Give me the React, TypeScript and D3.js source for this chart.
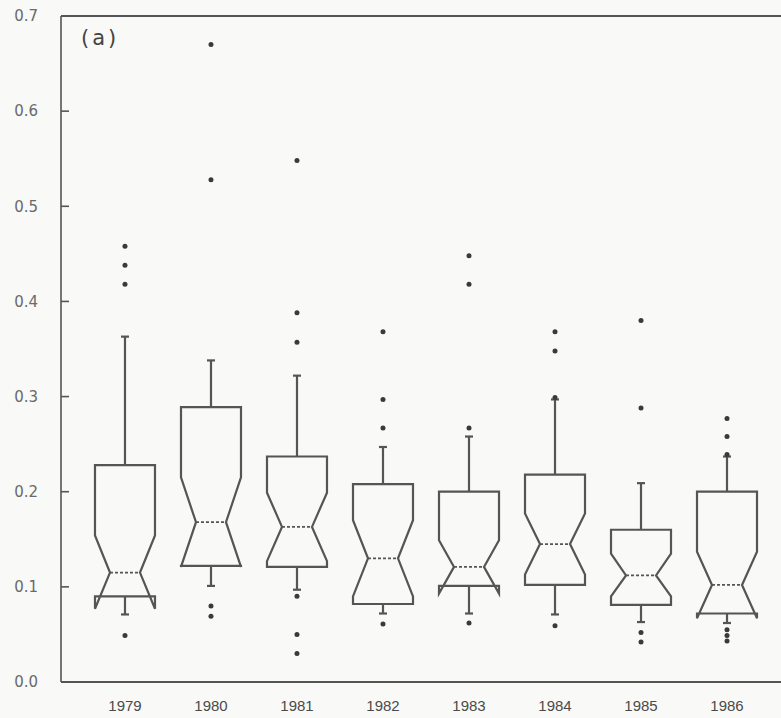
import React from "react";
import * as d3 from "d3";

// Annual distributions, one entry per year
const years = ["1979", "1980", "1981", "1982", "1983", "1984", "1985", "1986"];
const q1 = [0.090, 0.122, 0.121, 0.082, 0.101, 0.102, 0.081, 0.072];
const q3 = [0.228, 0.289, 0.237, 0.208, 0.200, 0.218, 0.160, 0.200];
const medians = [0.115, 0.168, 0.163, 0.130, 0.121, 0.145, 0.112, 0.102];
const notchLow = [0.077, 0.121, 0.127, 0.090, 0.093, 0.113, 0.090, 0.067];
const notchHigh = [0.154, 0.215, 0.199, 0.170, 0.149, 0.177, 0.135, 0.137];
const whiskerLow = [0.071, 0.101, 0.097, 0.072, 0.072, 0.071, 0.063, 0.062];
const whiskerHigh = [0.363, 0.338, 0.322, 0.247, 0.258, 0.297, 0.209, 0.237];
const outliers = [
  [0.458, 0.438, 0.418, 0.049],
  [0.670, 0.528, 0.080, 0.069],
  [0.548, 0.388, 0.357, 0.090, 0.050, 0.030],
  [0.368, 0.297, 0.267, 0.061],
  [0.448, 0.418, 0.267, 0.062],
  [0.368, 0.348, 0.299, 0.059],
  [0.380, 0.288, 0.052, 0.042],
  [0.277, 0.258, 0.239, 0.055, 0.049, 0.043],
];
const yTicks = [0.0, 0.1, 0.2, 0.3, 0.4, 0.5, 0.6, 0.7];
const panelLabel = "(a)";

const W = 781;
const H = 718;
const left = 61;
const ink = "#555555";

export default function App() {
  const y = d3.scaleLinear().domain([0, 0.7]).range([682, 16]);
  const x = d3.scalePoint<string>().domain(years).range([left, 791]).padding(0.744);
  const hw = 30;
  const cap = 4;

  const boxPath = (i: number) => {
    const cx = x(years[i]) as number;
    const pts: [number, number][] = [
      [cx - hw, y(q3[i])],
      [cx - hw, y(notchHigh[i])],
      [cx - hw / 2, y(medians[i])],
      [cx - hw, y(notchLow[i])],
      [cx - hw, y(q1[i])],
      [cx + hw, y(q1[i])],
      [cx + hw, y(notchLow[i])],
      [cx + hw / 2, y(medians[i])],
      [cx + hw, y(notchHigh[i])],
      [cx + hw, y(q3[i])],
    ];
    return d3.line()(pts) + "Z";
  };

  return (
    <svg
      width={W}
      height={H}
      style={{ position: "absolute", left: 0, top: 0, background: "#f9f9f7" }}
    >
      {/* frame: left axis, top and bottom rules */}
      <line x1={left} x2={left} y1={y(0)} y2={y(0.7)} stroke={ink} strokeWidth={1.6} />
      <line x1={left} x2={W} y1={y(0.7)} y2={y(0.7)} stroke={ink} strokeWidth={1.8} />
      <line x1={left} x2={W} y1={y(0)} y2={y(0)} stroke={ink} strokeWidth={1.8} />

      {yTicks.map((t) => (
        <g key={t}>
          {t > 0 && t < 0.7 && (
            <line x1={left} x2={left + 8} y1={y(t)} y2={y(t)} stroke={ink} strokeWidth={1.6} />
          )}
          <text
            x={38}
            y={y(t)}
            dy="0.35em"
            textAnchor="end"
            fontFamily="DejaVu Sans, sans-serif"
            fontSize={15}
            fill="#6a6a6a"
          >
            {t.toFixed(1)}
          </text>
        </g>
      ))}

      {years.map((yr) => (
        <text
          key={yr}
          x={x(yr)}
          y={711}
          textAnchor="middle"
          fontFamily="Liberation Sans, sans-serif"
          fontSize={15}
          fill="#4a4a4a"
        >
          {yr}
        </text>
      ))}

      <text
        x={81}
        y={45}
        fontFamily="DejaVu Sans, sans-serif"
        fontSize={21}
        letterSpacing={3}
        fill="#444"
      >
        {panelLabel}
      </text>

      {years.map((yr, i) => {
        const cx = x(yr) as number;
        return (
          <g key={yr} stroke={ink} fill="none">
            <line x1={cx} x2={cx} y1={y(q3[i])} y2={y(whiskerHigh[i])} strokeWidth={2.2} />
            <line x1={cx - cap} x2={cx + cap} y1={y(whiskerHigh[i])} y2={y(whiskerHigh[i])} strokeWidth={2.2} />
            <line x1={cx} x2={cx} y1={y(q1[i])} y2={y(whiskerLow[i])} strokeWidth={2.2} />
            <line x1={cx - cap} x2={cx + cap} y1={y(whiskerLow[i])} y2={y(whiskerLow[i])} strokeWidth={2.2} />
            <path d={boxPath(i)} strokeWidth={2.2} strokeLinejoin="miter" />
            <line
              x1={cx - hw / 2}
              x2={cx + hw / 2}
              y1={y(medians[i])}
              y2={y(medians[i])}
              strokeWidth={1.8}
              strokeDasharray="3,2"
            />
            {outliers[i].map((v, k) => (
              <circle key={k} cx={cx} cy={y(v)} r={2.5} fill="#3a3a3a" stroke="none" />
            ))}
          </g>
        );
      })}
    </svg>
  );
}
